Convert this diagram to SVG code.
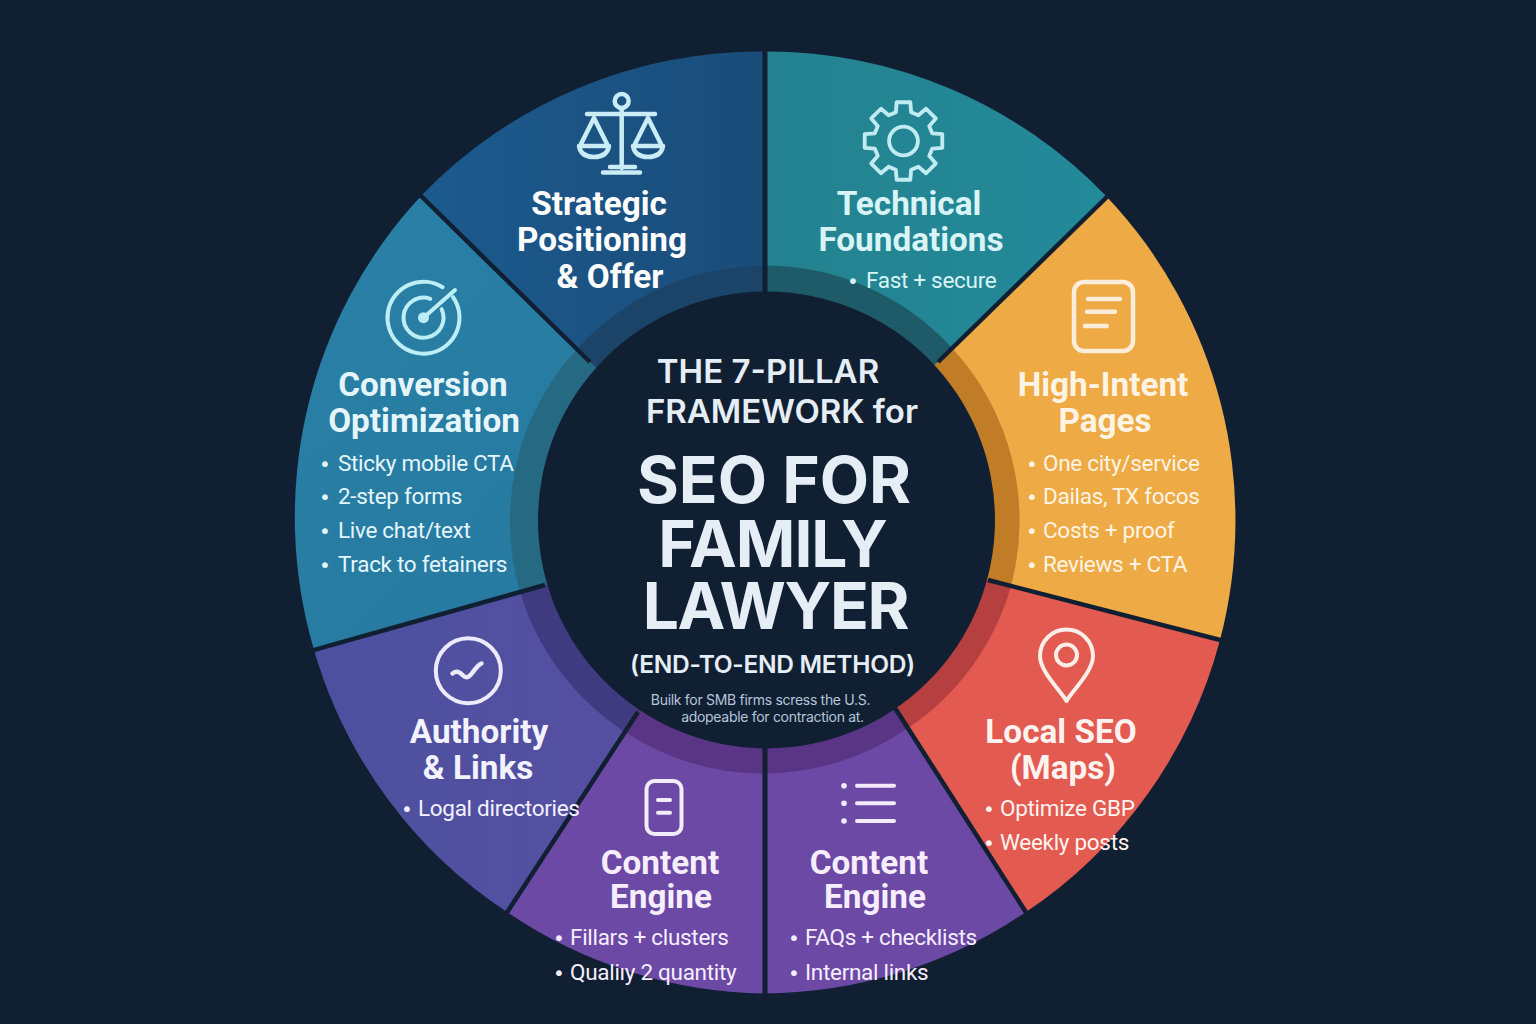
<svg xmlns="http://www.w3.org/2000/svg" width="1536" height="1024" viewBox="0 0 1536 1024">
<style>
.t{font-family:Roboto,"Liberation Sans",sans-serif;font-weight:700;font-size:33.300px;text-anchor:middle}
.l{font-family:Roboto,"Liberation Sans",sans-serif;font-weight:400;font-size:22.500px;letter-spacing:-0.3px}
.b{font-family:"DejaVu Sans",sans-serif;font-size:20px}
.h{font-family:Inter,"Liberation Sans",sans-serif;text-anchor:middle;fill:#e6eef5}
.s{font-size:14px;letter-spacing:-0.3px;fill:#b4c6da}
.ic{fill:none;stroke-width:4;stroke-linecap:round;stroke-linejoin:round}
.sep{stroke:#111f33;stroke-width:4.500;fill:none}
</style>
<defs>
<linearGradient id="gS" x1="0" x2="1" y1="0" y2="0"><stop offset="0" stop-color="#1c5a8e"/><stop offset="1" stop-color="#1a4c79"/></linearGradient>
<linearGradient id="gT" x1="0" x2="1" y1="0" y2="0"><stop offset="0" stop-color="#24828f"/><stop offset="1" stop-color="#238a9a"/></linearGradient>
<linearGradient id="gC" x1="0" x2="1" y1="0" y2="1"><stop offset="0" stop-color="#2a80a6"/><stop offset="1" stop-color="#25789f"/></linearGradient>
<linearGradient id="gA" x1="0" x2="1" y1="0" y2="0"><stop offset="0" stop-color="#4c509f"/><stop offset="1" stop-color="#5a4fa3"/></linearGradient>
</defs>
<rect width="1536" height="1024" fill="#111f33"/>
<g id="wedges">
<path fill="url(#gS)" d="M765,520 L590,362 L421,196 A471,471 0 0 1 765,51.500 Z"/>
<path fill="url(#gT)" d="M765,520 L765,51.500 A471,471 0 0 1 1107,197 L938,362 Z"/>
<path fill="#eeaa45" d="M765,520 L938,362 L1107,197 A471,471 0 0 1 1220,640 L988,580 Z"/>
<path fill="#e25a50" d="M765,520 L988,580 L1220,640 A471,471 0 0 1 1026,912 L895,708 Z"/>
<path fill="#6b49a5" d="M765,520 L895,708 L1026,912 A471,471 0 0 1 765,993.500 Z"/>
<path fill="#6b49a5" d="M765,520 L765,993.500 A471,471 0 0 1 507,912 L638,712 Z"/>
<path fill="url(#gA)" d="M765,520 L638,712 L507,912 A471,471 0 0 1 314,650 L545,585 Z"/>
<path fill="url(#gC)" d="M765,520 L545,585 L314,650 A471,471 0 0 1 421,196 L590,362 Z"/>
</g>
<g id="ring">
<path fill="#1b4468" d="M765,520 L590,362 L577,349 A254,254 0 0 1 765.500,265.500 Z"/>
<path fill="#1f5a68" d="M765,520 L765.500,265.500 A254,254 0 0 1 952,348 L938,362 Z"/>
<path fill="#c07c26" d="M765,520 L938,362 L952,348 A254,254 0 0 1 1011,586 L988,580 Z"/>
<path fill="#b5403f" d="M765,520 L988,580 L1011,586 A254,254 0 0 1 908,728 L895,708 Z"/>
<path fill="#5a3585" d="M765,520 L895,708 L908,728 A254,254 0 0 1 765.500,773.500 Z"/>
<path fill="#5a3585" d="M765,520 L765.500,773.500 A254,254 0 0 1 625,732 L638,712 Z"/>
<path fill="#403a80" d="M765,520 L638,712 L625,732 A254,254 0 0 1 520,592 L545,585 Z"/>
<path fill="#256a82" d="M765,520 L545,585 L520,592 A254,254 0 0 1 577,349 L590,362 Z"/>
</g>
<g id="connectors">
<path class="sep" style="stroke-width:5" d="M765,45 V300"/>
<path class="sep" d="M1112,192 L938,362"/>
<path class="sep" d="M1225,641.300 L988,580"/>
<path class="sep" d="M1029,917 L895,708"/>
<path class="sep" style="stroke-width:5" d="M765,740 V1000"/>
<path class="sep" d="M504,917 L638,712"/>
<path class="sep" d="M309,651.400 L545,585"/>
<path class="sep" d="M417,192 L590,362"/>
</g>
<g id="hub">
<circle cx="766.500" cy="520" r="228.500" fill="#111f33"/>
<text class="h" x="768" y="383" font-size="33" font-weight="600">THE 7-PILLAR</text>
<text class="h" x="782" y="423" font-size="33" font-weight="600">FRAMEWORK for</text>
<text class="h" x="774" y="503" font-size="64" font-weight="700">SEO FOR</text>
<text class="h" x="772.500" y="567" font-size="64" font-weight="700" letter-spacing="-1">FAMILY</text>
<text class="h" x="775.500" y="629" font-size="64" font-weight="700" letter-spacing="-1.300">LAWYER</text>
<text class="h" x="772.500" y="673" font-size="24.500" font-weight="600" letter-spacing="-0.3">(END-TO-END METHOD)</text>
<text class="h s" x="760.500" y="705">Builk for SMB firms scress the U.S.</text>
<text class="h s" x="772.500" y="722">adopeable for contraction at.</text>
</g>
<g id="pillar-strategic" fill="#ffffff">
<g class="ic" stroke="#c9ecf6" style="stroke-width:4.500">
<circle cx="621.700" cy="101" r="7"/>
<path d="M621.700,108 V168 M587,114 H655 M610,167 H635 M603,172.500 H640"/>
<path d="M594,118 L580,146 M594,118 L608,146 M579,146 H609 Q607,157 594,157 Q581,157 579,146 Z"/>
<path d="M648,118 L634,146 M648,118 L662,146 M633,146 H663 Q661,157 648,157 Q635,157 633,146 Z"/>
</g>
<text class="t" x="599" y="214.500">Strategic</text>
<text class="t" x="602" y="251">Positioning</text>
<text class="t" x="610" y="287.500">&amp; Offer</text>
</g>
<g id="pillar-technical" fill="#d8f4f7">
<g class="ic" stroke="#c0ecf1" transform="translate(903.500,141) scale(0.96)">
<path d="M29.900,-8 L40.400,-7.100 L40.400,7.100 L29.900,8 L26.800,15.500 L33.600,23.500 L23.500,33.600 L15.500,26.800 L8,29.900 L7.100,40.400 L-7.100,40.400 L-8,29.900 L-15.500,26.800 L-23.500,33.600 L-33.600,23.500 L-26.800,15.500 L-29.900,8 L-40.400,7.100 L-40.400,-7.100 L-29.900,-8 L-26.800,-15.500 L-33.600,-23.500 L-23.500,-33.600 L-15.500,-26.800 L-8,-29.900 L-7.100,-40.400 L7.100,-40.400 L8,-29.900 L15.500,-26.800 L23.500,-33.600 L33.600,-23.500 L26.800,-15.500 Z"/>
<circle r="15"/>
</g>
<text class="t" x="909" y="214.500">Technical</text>
<text class="t" x="911" y="251">Foundations</text>
<text class="l" x="847" y="288"><tspan class="b">•</tspan><tspan x="866">Fast + secure</tspan></text>
</g>
<g id="pillar-high-intent" fill="#fff4e4">
<g class="ic" stroke="#fdeedb" style="stroke-width:4.500">
<rect x="1074" y="282" width="59" height="69" rx="10"/>
<path d="M1088,299 H1120 M1087,311.700 H1115 M1085,326 H1106.700"/>
</g>
<text class="t" x="1103" y="395.500">High-Intent</text>
<text class="t" x="1105" y="431.500">Pages</text>
<text class="l" x="1026" y="471"><tspan class="b">•</tspan><tspan x="1043">One city/service</tspan></text>
<text class="l" x="1026" y="504"><tspan class="b">•</tspan><tspan x="1043">Dailas, TX focos</tspan></text>
<text class="l" x="1026" y="538"><tspan class="b">•</tspan><tspan x="1043">Costs + proof</tspan></text>
<text class="l" x="1026" y="571.500"><tspan class="b">•</tspan><tspan x="1043">Reviews + CTA</tspan></text>
</g>
<g id="pillar-local" fill="#fff3f0">
<g class="ic" stroke="#fdeeea">
<path d="M1066.500,701 C1062,692 1040,672 1040,656 A26.500,26.500 0 0 1 1093,656 C1093,672 1071,692 1066.500,701 Z"/>
<circle cx="1066.500" cy="655" r="10.500"/>
</g>
<text class="t" x="1061" y="742.500">Local SEO</text>
<text class="t" x="1063" y="778.500">(Maps)</text>
<text class="l" x="983" y="816"><tspan class="b">•</tspan><tspan x="1000">Optimize GBP</tspan></text>
<text class="l" x="983" y="850"><tspan class="b">•</tspan><tspan x="1000">Weekly posts</tspan></text>
</g>
<g id="pillar-content-lists" fill="#f6eeff">
<g class="ic" stroke="#f4ecfb">
<circle cx="844" cy="785.700" r="2.800" fill="#f4ecfb" stroke="none"/>
<circle cx="844" cy="803.300" r="2.800" fill="#f4ecfb" stroke="none"/>
<circle cx="844" cy="821" r="2.800" fill="#f4ecfb" stroke="none"/>
<path d="M857,785.700 H894 M857,803.300 H894 M857,821 H894"/>
</g>
<text class="t" x="869" y="873.500">Content</text>
<text class="t" x="875" y="908">Engine</text>
<text class="l" x="788" y="945"><tspan class="b">•</tspan><tspan x="805">FAQs + checklists</tspan></text>
<text class="l" x="788" y="979.500"><tspan class="b">•</tspan><tspan x="805">Internal links</tspan></text>
</g>
<g id="pillar-content-pillars" fill="#f6eeff">
<g class="ic" stroke="#f4ecfb">
<rect x="646.500" y="781" width="35" height="53" rx="8"/>
<path d="M658,800 H670 M658,812.700 H670"/>
</g>
<text class="t" x="660" y="873.500">Content</text>
<text class="t" x="661" y="908">Engine</text>
<text class="l" x="553" y="945"><tspan class="b">•</tspan><tspan x="570">Fillars + clusters</tspan></text>
<text class="l" x="553" y="979.500"><tspan class="b">•</tspan><tspan x="570">Qualiıy 2 quantity</tspan></text>
</g>
<g id="pillar-authority" fill="#f3f2ff">
<g class="ic" stroke="#ecebfb">
<circle cx="468.300" cy="670.700" r="32.500"/>
<path stroke-width="4.500" d="M452.500,673.500 C456,670 460,672 463,675.500 C467,679.500 470,676 473,672 C476,668 478,665 481.500,663.500"/>
</g>
<text class="t" x="479" y="742.500">Authority</text>
<text class="t" x="478" y="778.500">&amp; Links</text>
<text class="l" x="401" y="816"><tspan class="b">•</tspan><tspan x="418">Logal directories</tspan></text>
</g>
<g id="pillar-conversion" fill="#e4f6fc">
<g class="ic" stroke="#bdeef5">
<path d="M453,297.100 A36,36 0 1 1 442.600,287.200"/>
<path d="M441.600,309.200 A20,20 0 1 1 430.300,298.900"/>
<path d="M423.500,317.700 L455,290"/>
<circle cx="423.500" cy="317.700" r="5.500" fill="#bdeef5" stroke="none"/>
</g>
<text class="t" x="423" y="395.500">Conversion</text>
<text class="t" x="424" y="431.500">Optimization</text>
<text class="l" x="319" y="471"><tspan class="b">•</tspan><tspan x="338">Sticky mobile CTA</tspan></text>
<text class="l" x="319" y="504"><tspan class="b">•</tspan><tspan x="338">2-step forms</tspan></text>
<text class="l" x="319" y="538"><tspan class="b">•</tspan><tspan x="338">Live chat/text</tspan></text>
<text class="l" x="319" y="571.500"><tspan class="b">•</tspan><tspan x="338">Track to fetainers</tspan></text>
</g>
</svg>
